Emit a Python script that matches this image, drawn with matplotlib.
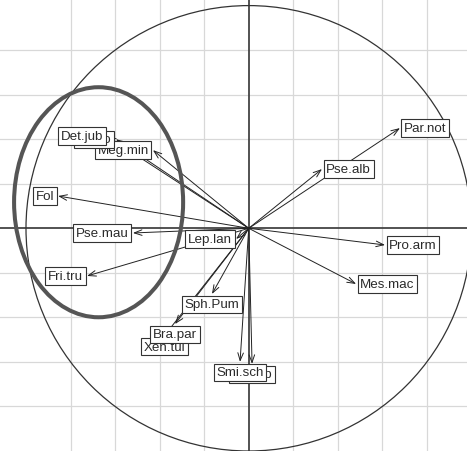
import matplotlib.pyplot as plt
import numpy as np
from matplotlib.patches import Circle, Ellipse

plt.rcParams['font.family'] = ['Liberation Sans', 'DejaVu Sans']

# species scores on the correlation circle (arrow tips)
species = ['Par.not', 'Pse.alb', 'Pro.arm', 'Mes.mac', 'Fol', 'Pse.mau',
           'Fri.tru', 'Meg.min', 'Lim.lo', 'Det.jub', 'Lep.lan', 'Sph.Pum',
           'Xen.tul', 'Bra.par', 'Oxy.sp', 'Smi.sch']
x_scores = [0.679, 0.329, 0.612, 0.482, -0.856, -0.520,
            -0.726, -0.430, -0.596, -0.636, -0.057, -0.165,
            -0.380, -0.331, 0.015, -0.039]
y_scores = [0.450, 0.266, -0.075, -0.250, 0.145, -0.021,
            -0.214, 0.351, 0.400, 0.414, -0.048, -0.295,
            -0.484, -0.430, -0.609, -0.600]

fig = plt.figure(figsize=(4.67, 4.52), dpi=100)
ax = fig.add_axes([0, 0, 1, 1])
ax.set_xlim(-1.1167, 0.980)
ax.set_ylim(-1.000, 1.0296)
ax.set_aspect('auto')
ax.axis('off')

# grid
for g in np.arange(-0.8, 0.81, 0.2):
    if abs(g) < 1e-9:
        continue
    ax.axvline(g, color='#d8d8d8', lw=0.9, zorder=0)
    ax.axhline(g, color='#d8d8d8', lw=0.9, zorder=0)
ax.axhline(0, color='#444444', lw=1.3, zorder=1)
ax.axvline(0, color='#444444', lw=1.3, zorder=1)

ax.add_patch(Circle((0, 0), 1.0, fill=False, ec='#333333', lw=0.9, zorder=2))

# arrows
for x, y in zip(x_scores, y_scores):
    ax.annotate('', xy=(x, y), xytext=(0, 0),
                arrowprops=dict(arrowstyle='->,head_length=0.55,head_width=0.2',
                                color='#222222', lw=0.7, shrinkA=0, shrinkB=0),
                zorder=3)

# labels placed like ade4 (beside or under the tip)
for name, x, y in zip(species, x_scores, y_scores):
    if abs(x) > abs(y):
        off = (3, 0) if x > 0 else (-3, 0)
        ha = 'left' if x > 0 else 'right'
    else:
        off = (0, -7.5) if y < 0 else (0, 7.5)
        ha = 'center'
    ax.annotate(name, xy=(x, y), xytext=off, textcoords='offset points',
                ha=ha, va='center', fontsize=9.6, color='#2a2a2a', zorder=4,
                bbox=dict(boxstyle='square,pad=0.2', fc='white', ec='#333333', lw=0.8))

# ellipse highlighting the left-hand group
ax.add_patch(Ellipse((-0.674, 0.117), 0.759, 1.033, fill=False,
                     ec='#555555', lw=2.9, zorder=5))

fig.savefig('out.png', dpi=100)
